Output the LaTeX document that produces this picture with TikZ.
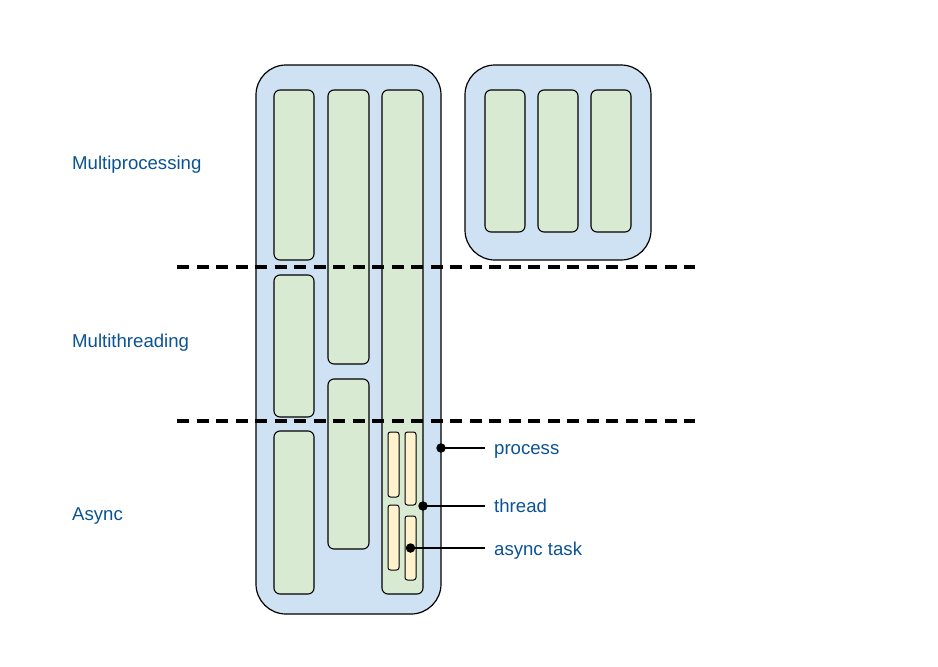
\documentclass[tikz,border=0pt]{standalone}
\usepackage{fontspec}
\setmainfont{Liberation Sans}
\definecolor{procfill}{HTML}{CFE2F3}
\definecolor{thrfill}{HTML}{D9EAD3}
\definecolor{taskfill}{HTML}{FFF2CC}
\definecolor{lblblue}{HTML}{0B5394}
\newcommand\bx[6]{%
  \pgfmathsetmacro\bxw{#5-#3}\pgfmathsetmacro\bxh{#6-#4}%
  \node[#2, minimum width=\bxw pt, minimum height=\bxh pt] (#1) at ({(#3+#5)/2},{(#4+#6)/2}) {};}
\begin{document}
\begin{tikzpicture}[x=1pt,y=-1pt,
  base/.style={draw=black, inner sep=0pt, outer sep=0pt, rectangle},
  proc/.style={base, line width=1.2pt, fill=procfill, rounded corners=30pt},
  thr/.style={base, line width=1.1pt, fill=thrfill, rounded corners=6pt},
  task/.style={base, line width=1pt, fill=taskfill, rounded corners=2.5pt},
  lbl/.style={text=lblblue, font=\fontsize{18.6}{22}\selectfont, inner sep=0pt, anchor=base west},
  sep/.style={line width=3.2pt, dash pattern=on 12pt off 7.5pt},
  conn/.style={line width=1.8pt},
  dot/.style={fill=black, circle, inner sep=0pt, minimum size=9.5pt}]
\useasboundingbox (0,0) rectangle (938,667);
\fill[white] (0,0) rectangle (938,667);

% processes
\bx{p1}{proc}{256}{65}{441}{614}
\bx{p2}{proc}{465}{65}{651}{260}

% threads of process 1
\bx{t11}{thr}{274}{90}{314}{260}
\bx{t12}{thr}{274}{275}{314}{417}
\bx{t13}{thr}{274}{431}{314}{594}
\bx{t21}{thr}{328}{90}{369}{364}
\bx{t22}{thr}{328}{379}{369}{549}
\bx{t31}{thr}{382}{90}{423}{594}

% threads of process 2
\bx{u1}{thr}{485}{90}{525}{232}
\bx{u2}{thr}{538}{90}{578}{232}
\bx{u3}{thr}{591}{90}{631}{232}

% async tasks
\bx{a1}{task}{388}{432}{399}{497}
\bx{a2}{task}{405}{432}{416}{505}
\bx{a3}{task}{388}{505}{399}{570}
\bx{a4}{task}{405}{516}{416}{580}

% separators
\coordinate (s1a) at (177,267);
\coordinate (s1b) at (695,267);
\coordinate (s2a) at (177,421);
\coordinate (s2b) at (695,421);
\draw[sep] (s1a) -- (s1b);
\draw[sep] (s2a) -- (s2b);

% section labels
\node[lbl] (lmp) at (72,169) {Multiprocessing};
\node[lbl] (lmt) at (72,347) {Multithreading};
\node[lbl] (las) at (72,520) {Async};

% legend
\coordinate (cp) at (485,448);
\coordinate (ct) at (485,506);
\coordinate (ca) at (485,548);
\node[lbl] (lp) at (494,454) {process};
\node[lbl] (lt) at (494,512) {thread};
\node[lbl] (la) at (494,555) {async task};
\node[dot] (dp) at (p1.east |- cp) {};
\node[dot] (dt) at (t31.east |- ct) {};
\node[dot] (da) at (a4.center |- ca) {};
\draw[conn] (dp.center) -- (cp);
\draw[conn] (dt.center) -- (ct);
\draw[conn] (da.center) -- (ca);
\end{tikzpicture}
\end{document}
